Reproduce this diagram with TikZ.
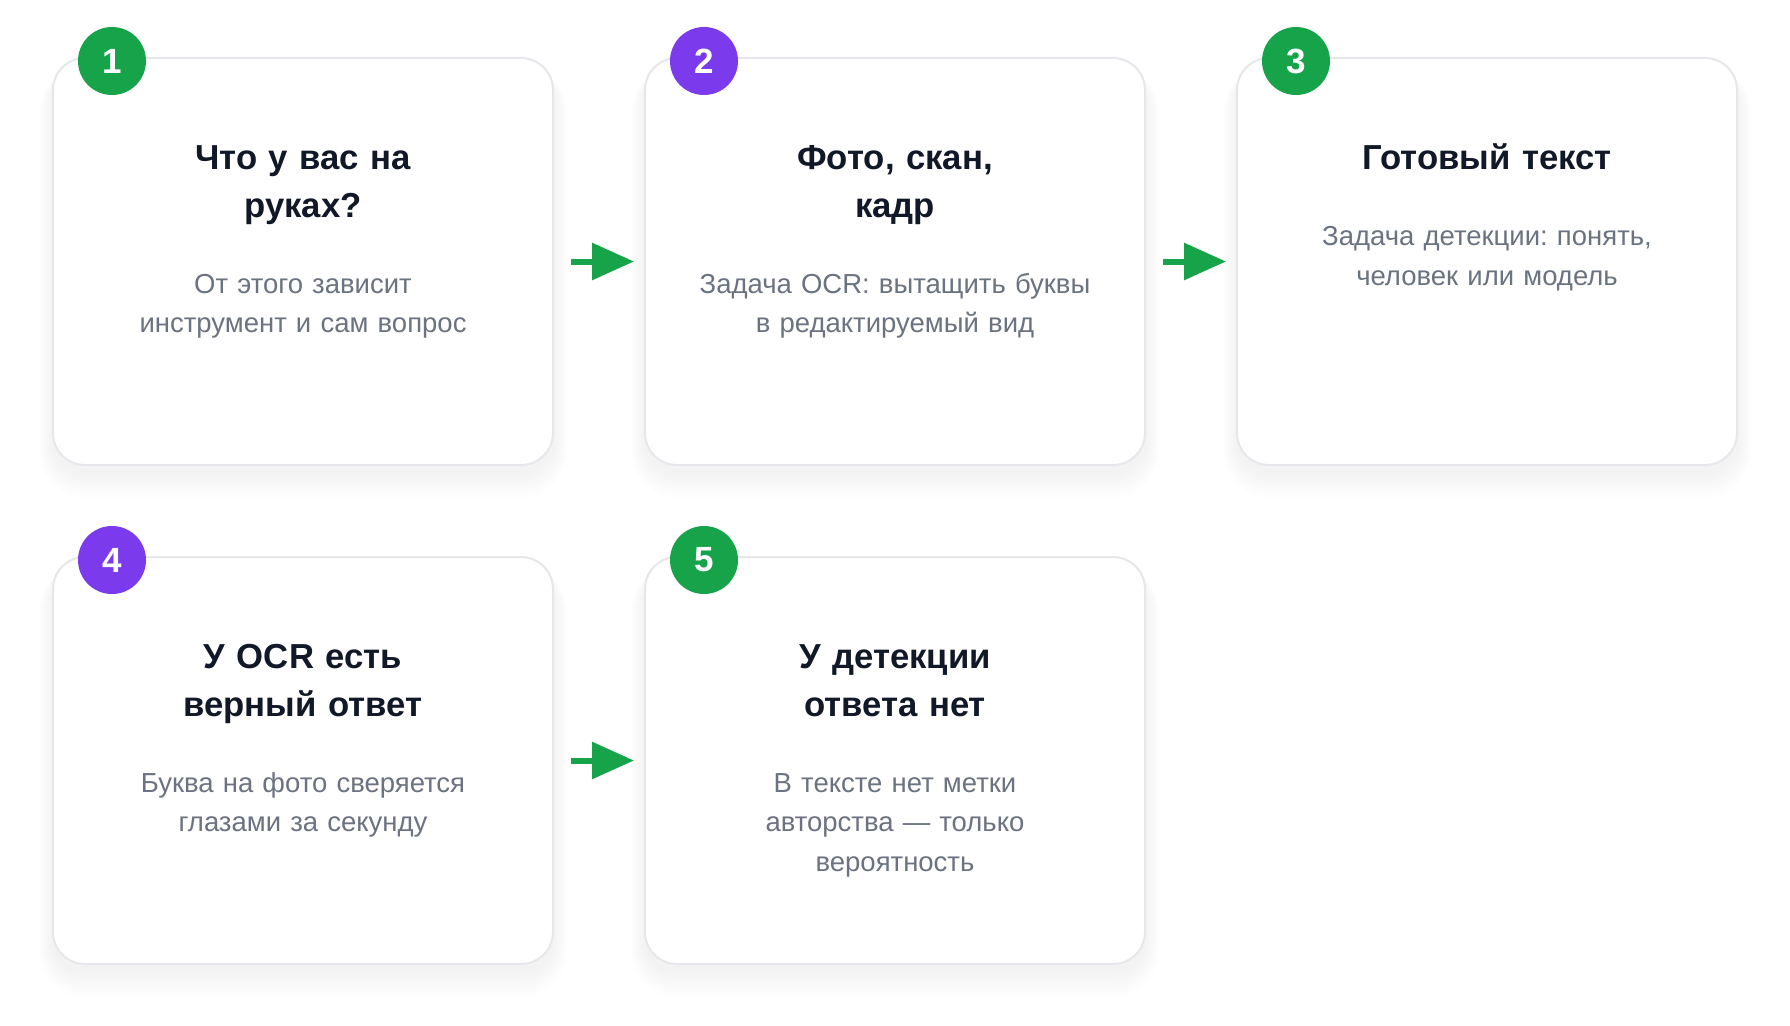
\documentclass[tikz,border=0pt]{standalone}
\usepackage{fontspec}
\setmainfont{Liberation Sans}
\usetikzlibrary{backgrounds,calc,arrows.meta}
\frenchspacing
\definecolor{ink}{HTML}{111827}
\definecolor{muted}{HTML}{6B7280}
\definecolor{cardline}{HTML}{E5E7EB}
\definecolor{stepgreen}{HTML}{16A34A}
\definecolor{steppurple}{HTML}{7C3AED}
\tikzset{
  card/.style={draw=cardline, line width=2pt, fill=white, rounded corners=32pt,
    minimum width=500pt, minimum height=407pt, inner sep=0pt},
  badge/.style={circle, minimum size=68pt, inner sep=0pt, text=white,
    font=\bfseries\fontsize{35}{35}\selectfont},
  cardtitle/.style={anchor=base, align=center, text width=460pt, inner sep=0pt,
    text=ink, font=\bfseries\fontsize{34.7}{47.6}\selectfont},
  cardbody/.style={anchor=base, align=center, text width=460pt, inner sep=0pt,
    text=muted, font=\fontsize{27.5}{39.3}\selectfont},
  flow/.style={draw=stepgreen, line width=6pt, shorten <=17pt, shorten >=10pt,
    -{Triangle[length=42pt,width=36pt,fill=stepgreen]}}
}
\begin{document}
\begin{tikzpicture}[x=1pt,y=-1pt]
\useasboundingbox (0,0) rectangle (1790,1025);

% cards
\node[card] (c1) at (303,261.5) {};
\node[card] (c2) at (895,261.5) {};
\node[card] (c3) at (1487,261.5) {};
\node[card] (c4) at (303,760.5) {};
\node[card] (c5) at (895,760.5) {};

% shadows
\begin{scope}[on background layer]
  \fill[white] (0,0) rectangle (1790,1025);
  \foreach \c in {c1,c2,c3,c4,c5}{
    \foreach \k [evaluate=\k as \r using 32+1.2*\k] in {1,...,12}{
      \fill[black, opacity=0.0042, rounded corners=\r pt]
        ($(\c.north west)+(-1.1*\k,14-0.4*\k)$) rectangle ($(\c.south east)+(1.1*\k,6+2.2*\k)$);
    }
  }
\end{scope}

% badges
\node[badge, fill=stepgreen]  (n1) at ($(c1.north west)+(60,4)$) {1};
\node[badge, fill=steppurple] (n2) at ($(c2.north west)+(60,4)$) {2};
\node[badge, fill=stepgreen]  (n3) at ($(c3.north west)+(60,4)$) {3};
\node[badge, fill=steppurple] (n4) at ($(c4.north west)+(60,4)$) {4};
\node[badge, fill=stepgreen]  (n5) at ($(c5.north west)+(60,4)$) {5};

% texts
\node[cardtitle] (t1) at ($(c1.north)+(0,112.7)$) {Что у вас на\\руках?};
\node[cardbody]  (b1) at ($(c1.north)+(0,236.5)$) {От этого зависит\\инструмент и сам вопрос};

\node[cardtitle] (t2) at ($(c2.north)+(0,112.7)$) {Фото, скан,\\кадр};
\node[cardbody]  (b2) at ($(c2.north)+(0,236.5)$) {Задача OCR: вытащить буквы\\в редактируемый вид};

\node[cardtitle] (t3) at ($(c3.north)+(0,112.7)$) {Готовый текст};
\node[cardbody]  (b3) at ($(c3.north)+(0,188.7)$) {Задача детекции: понять,\\человек или модель};

\node[cardtitle] (t4) at ($(c4.north)+(0,112.7)$) {У OCR есть\\верный ответ};
\node[cardbody]  (b4) at ($(c4.north)+(0,236.5)$) {Буква на фото сверяется\\глазами за секунду};

\node[cardtitle] (t5) at ($(c5.north)+(0,112.7)$) {У детекции\\ответа нет};
\node[cardbody]  (b5) at ($(c5.north)+(0,236.5)$) {В тексте нет метки\\авторства — только\\вероятность};

% arrows
\draw[flow] (c1.east) -- (c2.west);
\draw[flow] (c2.east) -- (c3.west);
\draw[flow] (c4.east) -- (c5.west);
\end{tikzpicture}
\end{document}
